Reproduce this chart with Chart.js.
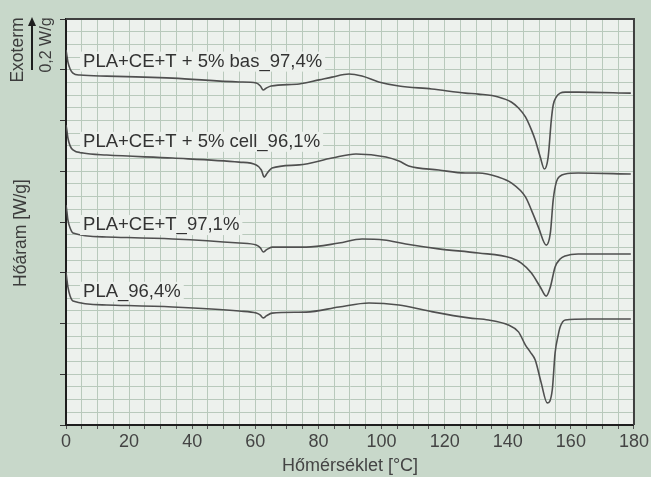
<!DOCTYPE html>
<html>
<head>
<meta charset="utf-8">
<title>DSC görbék</title>
<script src="https://cdn.jsdelivr.net/npm/chart.js@4.4.1/dist/chart.umd.min.js"></script>
<style>
  html, body { margin: 0; padding: 0; background: #c9d8cb; }
  #wrap { width: 651px; height: 477px; }
</style>
</head>
<body>
<div id="wrap"><canvas id="dscChart" width="651" height="477"></canvas></div>
<script>
// Görbék neve (felülről lefelé)
const seriesNames = [
    'PLA+CE+T + 5% bas_97,4%',
    'PLA+CE+T + 5% cell_96,1%',
    'PLA+CE+T_97,1%',
    'PLA_96,4%'
];

// x tengely feliratok [°C]
const xTickLabels = [0, 20, 40, 60, 80, 100, 120, 140, 160, 180];

// PLA+CE+T + 5% bas
const tempBas = [0, 0.3, 0.6, 1.3, 2.2, 4.4, 12.9, 33.8, 54.9, 60.3, 61.6, 62.5, 63.5, 65.0, 73.9, 80.2, 84.3, 89.7, 93.8, 99.1,
    105.5, 115.9, 126.6, 130.7, 137.0, 141.1, 143.4, 145.6, 147.5, 148.7, 150.3, 151.6, 152.8, 153.8, 154.4, 155.4, 156.6, 158.2, 162.3, 179.0];
const flowBas = [1.478, 1.454, 1.431, 1.403, 1.387, 1.379, 1.375, 1.367, 1.352, 1.348, 1.336, 1.320, 1.328, 1.336, 1.344, 1.360, 1.371, 1.383, 1.375, 1.352,
    1.336, 1.324, 1.308, 1.304, 1.293, 1.273, 1.249, 1.214, 1.163, 1.123, 1.056, 1.009, 1.056, 1.202, 1.261, 1.293, 1.308, 1.312, 1.312, 1.308];

// PLA+CE+T + 5% cell
const tempCell = [0, 0.3, 0.6, 1.3, 2.2, 5.4, 12.9, 33.8, 54.9, 60.3, 61.9, 62.8, 63.8, 65.3, 73.9, 84.3, 91.9, 101.4, 105.5, 108.6,
    118.1, 126.6, 130.7, 137.0, 141.1, 145.6, 147.5, 149.7, 152.2, 153.5, 154.4, 155.4, 156.6, 158.2, 162.3, 179.0];
const flowCell = [1.182, 1.159, 1.131, 1.100, 1.084, 1.072, 1.064, 1.052, 1.036, 1.025, 1.005, 0.977, 0.993, 1.013, 1.025, 1.052, 1.068, 1.056, 1.040, 1.021,
    1.005, 0.993, 0.993, 0.977, 0.954, 0.899, 0.847, 0.780, 0.709, 0.757, 0.887, 0.958, 0.981, 0.989, 0.993, 0.989];

// PLA+CE+T
const tempCet = [0, 0.3, 0.6, 1.3, 2.2, 12.9, 33.8, 54.9, 60.3, 61.6, 62.5, 63.5, 65.3, 76.1, 86.5, 93.8, 100.8, 107.7, 118.1, 130.7,
    141.1, 144.3, 147.5, 150.3, 152.2, 153.5, 155.0, 156.6, 158.2, 162.3, 179.0];
const flowCet = [0.867, 0.839, 0.808, 0.776, 0.757, 0.741, 0.733, 0.717, 0.709, 0.698, 0.682, 0.690, 0.701, 0.701, 0.717, 0.733, 0.729, 0.713, 0.694, 0.678,
    0.658, 0.638, 0.599, 0.544, 0.508, 0.544, 0.623, 0.654, 0.666, 0.674, 0.674];

// PLA
const tempPla = [0, 0.3, 0.6, 1.3, 2.2, 12.9, 33.8, 54.9, 60.3, 61.6, 62.5, 63.5, 65.3, 76.1, 86.5, 96.0, 105.5, 115.0, 127.6, 133.9,
    140.2, 143.4, 145.6, 147.1, 148.7, 150.6, 152.5, 154.1, 155.0, 156.0, 156.6, 158.2, 165.5, 179.0];
const flowPla = [0.603, 0.571, 0.544, 0.508, 0.489, 0.473, 0.465, 0.449, 0.441, 0.433, 0.422, 0.430, 0.441, 0.445, 0.465, 0.481, 0.473, 0.449, 0.422, 0.414,
    0.394, 0.367, 0.315, 0.288, 0.256, 0.166, 0.087, 0.138, 0.284, 0.355, 0.386, 0.414, 0.418, 0.418];

// feliratok helye a görbék fölött
const labelTemp = 5.4;
const labelFlow = [1.432, 1.116, 0.788, 0.525];

const FONT = '"Liberation Sans", Arial, sans-serif';
const PLOT_BG = '#edf1ed';
const PAGE_BG = '#c8d8ca';
const GRID = '#b9c9bc';

function toPoints(temps, flows) {
    return temps.map((t, i) => ({ x: t, y: flows[i] }));
}

const dscDecor = {
    id: 'dscDecor',
    beforeDraw(chart) {
        const { ctx, chartArea: a } = chart;
        ctx.save();
        ctx.fillStyle = PAGE_BG;
        ctx.fillRect(0, 0, chart.width, chart.height);
        ctx.fillStyle = PLOT_BG;
        ctx.fillRect(a.left, a.top, a.right - a.left, a.bottom - a.top);
        ctx.restore();
    },
    afterDatasetsDraw(chart) {
        const { ctx } = chart;
        const xs = chart.scales.x, ys = chart.scales.y;
        ctx.save();
        ctx.font = '18.5px ' + FONT;
        ctx.textBaseline = 'middle';
        seriesNames.forEach((name, i) => {
            const px = xs.getPixelForValue(labelTemp);
            const py = ys.getPixelForValue(labelFlow[i]);
            const w = ctx.measureText(name).width;
            ctx.fillStyle = PLOT_BG;
            ctx.fillRect(px - 3, py - 10, w + 6, 20);
            ctx.fillStyle = '#333';
            ctx.fillText(name, px, py);
        });
        ctx.restore();
    },
    afterDraw(chart) {
        const { ctx, chartArea: a } = chart;
        ctx.save();
        // felső és jobb keret
        ctx.strokeStyle = '#3f3f3f';
        ctx.lineWidth = 2;
        ctx.beginPath();
        ctx.moveTo(a.left, a.top);
        ctx.lineTo(a.right, a.top);
        ctx.lineTo(a.right, a.bottom);
        ctx.stroke();

        // függőleges feliratok
        ctx.fillStyle = '#3c3c3c';
        ctx.textAlign = 'center';
        ctx.textBaseline = 'middle';
        const vText = (txt, x, y, size) => {
            ctx.save();
            ctx.translate(x, y);
            ctx.rotate(-Math.PI / 2);
            ctx.font = size + 'px ' + FONT;
            ctx.fillText(txt, 0, 0);
            ctx.restore();
        };
        vText('Hőáram [W/g]', 21, 233, 17.5);
        vText('Exoterm', 18, 50, 17.5);
        vText('0,2 W/g', 47, 45, 16);

        // nyíl: 0,2 W/g skála
        ctx.strokeStyle = '#1e1e1e';
        ctx.lineWidth = 2;
        ctx.beginPath();
        ctx.moveTo(32, 70);
        ctx.lineTo(32, 24);
        ctx.stroke();
        ctx.fillStyle = '#1e1e1e';
        ctx.beginPath();
        ctx.moveTo(32, 17);
        ctx.lineTo(28, 26);
        ctx.lineTo(36, 26);
        ctx.closePath();
        ctx.fill();
        ctx.restore();
    }
};

const ctx = document.getElementById('dscChart').getContext('2d');

const data = {
    datasets: [
        { label: seriesNames[0], data: toPoints(tempBas, flowBas) },
        { label: seriesNames[1], data: toPoints(tempCell, flowCell) },
        { label: seriesNames[2], data: toPoints(tempCet, flowCet) },
        { label: seriesNames[3], data: toPoints(tempPla, flowPla) }
    ]
};

const config = {
    type: 'line',
    data: data,
    plugins: [dscDecor],
    options: {
        responsive: false,
        animation: false,
        devicePixelRatio: 1,
        layout: { padding: { top: 19, right: 16, left: 0, bottom: 0 } },
        plugins: {
            legend: { display: false },
            tooltip: { enabled: false }
        },
        elements: {
            point: { radius: 0 },
            line: { borderWidth: 1.6, borderColor: '#4f4f4f', cubicInterpolationMode: 'monotone', fill: false }
        },
        scales: {
            x: {
                type: 'linear',
                min: 0,
                max: 180,
                afterFit: s => { s.height = 52; },
                border: { color: '#1e1e1e', width: 2 },
                grid: { color: GRID, lineWidth: 1, tickLength: 4, tickColor: '#555' },
                ticks: {
                    stepSize: 5,
                    autoSkip: false,
                    maxRotation: 0,
                    padding: 2,
                    color: '#444',
                    font: { family: FONT, size: 18 },
                    callback: v => xTickLabels.includes(Math.round(v)) && Math.abs(v - Math.round(v)) < 1e-6 ? String(Math.round(v)) : ''
                },
                title: {
                    display: true,
                    text: 'Hőmérséklet [°C]',
                    color: '#444',
                    font: { family: FONT, size: 18 },
                    padding: { top: 0, bottom: 0 }
                }
            },
            y: {
                type: 'linear',
                min: 0,
                max: 1.6,
                afterFit: s => { s.width = 66; },
                border: { color: '#1e1e1e', width: 2 },
                grid: {
                    color: GRID,
                    lineWidth: 1,
                    tickLength: 6,
                    tickColor: c => c.index % 4 === 0 ? '#333' : 'rgba(0,0,0,0)'
                },
                ticks: { display: false, stepSize: 0.05, maxTicksLimit: 100, autoSkip: false }
            }
        }
    }
};

const dscChart = new Chart(ctx, config);
</script>
</body>
</html>
